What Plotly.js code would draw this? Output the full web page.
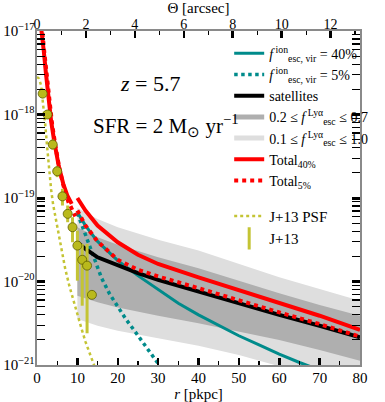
<!DOCTYPE html>
<html lang="en">
<head>
    <meta charset="UTF-8">
    <title>Lya SB profile</title>
    <script src="https://cdn.plot.ly/plotly-3.0.1.min.js"></script>
    <style>
        body { margin: 0; background: #fff; }
        #myDiv { width: 385px; height: 402px; }
    </style>
</head>
<body>
<div id="myDiv"></div>
<script>
    // surface brightness values are log10(SB)
    // central part (r < 10 kpc), both totals
    var rInner40 = [1.0, 1.3, 1.7, 2.2, 2.8, 3.5, 4.3, 5.4, 6.5, 7.5, 8.6];
    var total40Inner = [-16.95, -17.05, -17.25, -17.5, -17.8, -18.08, -18.33, -18.62, -18.83, -18.97, -19.07];
    var rInner5 = [1.0, 1.4, 1.8, 2.3, 3.0, 3.7, 4.5, 5.6, 6.8, 7.8, 8.8, 9.5];
    var total5Inner = [-16.93, -17.05, -17.25, -17.5, -17.82, -18.1, -18.36, -18.66, -18.9, -19.05, -19.15, -19.22];

    // outer part
    var rOuter = [10, 12, 15, 20, 25, 30, 40, 50, 60, 70, 80];
    var satellites = [-19.53, -19.61, -19.71, -19.81, -19.90, -19.98, -20.12, -20.27, -20.40, -20.53, -20.67];
    var total40Outer = [-19.00, -19.15, -19.33, -19.53, -19.68, -19.79, -19.95, -20.10, -20.25, -20.41, -20.58];
    var total5Outer = [-19.15, -19.33, -19.52, -19.74, -19.86, -19.94, -20.08, -20.23, -20.37, -20.51, -20.66];

    var rCen40 = [10, 12, 15, 20, 25, 30, 35, 40, 45, 50, 55, 60, 65, 70];
    var central40 = [-19.17, -19.33, -19.52, -19.75, -19.93, -20.10, -20.26, -20.40, -20.53, -20.65, -20.76, -20.87, -20.97, -21.06];
    var rCen5 = [10, 12, 14, 16, 18, 20, 22, 24, 26, 28, 30, 31];
    var central5 = [-19.18, -19.45, -19.72, -19.96, -20.15, -20.31, -20.45, -20.58, -20.71, -20.85, -20.98, -21.05];

    // f_esc^Lya bands round the satellites
    var rBand = [10, 15, 20, 30, 40, 50, 60, 70, 80];
    var darkHi = [-19.35, -19.47, -19.56, -19.71, -19.84, -19.99, -20.14, -20.28, -20.41];
    var darkLo = [-20.17, -20.25, -20.31, -20.41, -20.50, -20.60, -20.70, -20.82, -20.95];
    var lightHi = [-19.12, -19.25, -19.35, -19.50, -19.63, -19.79, -19.95, -20.09, -20.23];
    var lightLo = [-20.45, -20.53, -20.59, -20.68, -20.77, -20.88, -21.02, -21.15, -21.28];

    // J+13 data and PSF
    var rObs = [1.4, 2.6, 3.9, 5.0, 6.3, 7.6, 8.8, 10.0, 11.2, 12.4, 13.6];
    var sbObs = [-17.75, -18.0, -18.36, -18.68, -18.98, -19.19, -19.35, -19.57, -19.74, -19.81, -20.16];
    var sbObsHi = [-17.70, -17.95, -18.30, -18.62, -18.89, -19.09, -19.23, -19.39, -19.55, -19.55, -20.16];
    var sbObsLo = [-17.80, -18.05, -18.42, -18.75, -19.09, -19.29, -19.53, -19.99, -20.29, -20.62, -20.16];
    var rPsf = [0, 0.5, 1, 1.5, 2, 2.5, 3, 3.5, 4, 5, 6, 7, 8, 9, 10, 11, 12, 13, 14, 14.5];
    var psf = [-17.55, -17.57, -17.65, -17.85, -18.1, -18.38, -18.65, -18.9, -19.08, -19.35, -19.6, -19.85, -20.05, -20.22, -20.42, -20.56, -20.72, -20.86, -20.99, -21.05];

    var kpcPerArcsec = 6.06;

    function pw(a) { return a.map(v => v === null ? null : Math.pow(10, v)); }

    var TEAL = '#008b8b', RED = '#ff0000', YEL = '#c4c434';
    var DARK = '#afafaf', LIGHT = '#dedede';

    var lightLow = { x: rBand, y: pw(lightLo), mode: 'lines', line: {width: 0, color: LIGHT}, showlegend: false, hoverinfo: 'skip' };
    var lightUp = { x: rBand, y: pw(lightHi), mode: 'lines', line: {width: 0, color: LIGHT}, fill: 'tonexty', fillcolor: LIGHT, showlegend: false, hoverinfo: 'skip' };
    var darkLow = { x: rBand, y: pw(darkLo), mode: 'lines', line: {width: 0, color: DARK}, showlegend: false, hoverinfo: 'skip' };
    var darkUp = { x: rBand, y: pw(darkHi), mode: 'lines', line: {width: 0, color: DARK}, fill: 'tonexty', fillcolor: DARK, showlegend: false, hoverinfo: 'skip' };

    var psfTrace = { x: rPsf, y: pw(psf), mode: 'lines', line: {color: YEL, width: 2.5, dash: 'dot'},
        name: 'J+13 PSF', legend: 'legend2', legendrank: 1 };

    var cen40Trace = { x: rCen40, y: pw(central40), mode: 'lines', line: {color: TEAL, width: 3},
        name: '<i>f</i><sup> ion</sup><sub>esc, vir</sub> = 40%', legendrank: 1 };
    var cen5Trace = { x: rCen5, y: pw(central5), mode: 'lines', line: {color: TEAL, width: 3.5, dash: 'dot'},
        name: '<i>f</i><sup> ion</sup><sub>esc, vir</sub> = 5%', legendrank: 2 };
    var satTrace = { x: rOuter, y: pw(satellites), mode: 'lines', line: {color: 'black', width: 4},
        name: 'satellites', legendrank: 3 };
    var darkLeg = { x: [null], y: [null], mode: 'lines', line: {color: DARK, width: 5},
        name: '0.2 ≤ <i>f</i><sup> Lyα</sup><sub>esc</sub> ≤ 0.7', legendrank: 4 };
    var lightLeg = { x: [null], y: [null], mode: 'lines', line: {color: LIGHT, width: 5},
        name: '0.1 ≤ <i>f</i><sup> Lyα</sup><sub>esc</sub> ≤ 1.0', legendrank: 5 };
    var tot40Trace = { x: rInner40.concat([null], rOuter), y: pw(total40Inner.concat([null], total40Outer)),
        mode: 'lines', line: {color: RED, width: 4}, connectgaps: false,
        name: 'Total<sub>40%</sub>', legendrank: 6 };
    var tot5Trace = { x: rInner5.concat([null], rOuter), y: pw(total5Inner.concat([null], total5Outer)),
        mode: 'lines', line: {color: RED, width: 4, dash: 'dot'}, connectgaps: false,
        name: 'Total<sub>5%</sub>', legendrank: 7 };

    var obsTrace = { x: rObs, y: pw(sbObs), mode: 'markers', showlegend: false,
        marker: {size: 9, color: '#b9b91c', line: {color: '#5e5e00', width: 0.8}},
        error_y: { type: 'data', symmetric: false,
            array: rObs.map((r, i) => Math.pow(10, sbObsHi[i]) - Math.pow(10, sbObs[i])),
            arrayminus: rObs.map((r, i) => Math.pow(10, sbObs[i]) - Math.pow(10, sbObsLo[i])),
            color: YEL, thickness: 3, width: 0 } };
    var obsLeg = { x: [null], y: [null], mode: 'markers', name: 'J+13', legend: 'legend2', legendrank: 2,
        marker: {symbol: 'line-ns-open', size: 16, color: YEL, line: {color: YEL, width: 3}} };

    var topAxisTrace = { x: [], y: [], xaxis: 'x2', showlegend: false, hoverinfo: 'skip' };

    var data = [lightLow, lightUp, darkLow, darkUp, psfTrace, cen40Trace, cen5Trace, satTrace,
        tot40Trace, tot5Trace, obsTrace, darkLeg, lightLeg, obsLeg, topAxisTrace];

    var FONT = 'Liberation Serif';
    var layout = {
        width: 385, height: 402,
        margin: {l: 37, r: 13, t: 31, b: 37},
        paper_bgcolor: 'white', plot_bgcolor: 'white',
        font: {family: FONT, size: 14, color: 'black'},
        showlegend: true,
        xaxis: {
            range: [0, 80], dtick: 10, tick0: 0,
            ticks: 'inside', ticklen: 7, tickwidth: 2.5, tickcolor: 'black',
            minor: {dtick: 5, ticks: 'inside', ticklen: 4, tickwidth: 1.2, tickcolor: 'black', showgrid: false},
            showline: true, linecolor: '#8a8a8a', linewidth: 2,
            showgrid: false, zeroline: false,
            tickfont: {family: FONT, size: 15}, ticklabelstandoff: -2,
            title: {text: '<i>r</i> [pkpc]', font: {family: FONT, size: 15}, standoff: 5}
        },
        xaxis2: {
            overlaying: 'x', side: 'top', anchor: 'y',
            range: [0, 80 / kpcPerArcsec], dtick: 2, tick0: 0,
            ticks: 'inside', ticklen: 7, tickwidth: 2.5, tickcolor: 'black',
            minor: {dtick: 1, ticks: 'inside', ticklen: 4, tickwidth: 1.2, tickcolor: 'black', showgrid: false},
            showline: true, linecolor: '#8a8a8a', linewidth: 2,
            showgrid: false, zeroline: false,
            tickfont: {family: FONT, size: 14}, ticklabelstandoff: -6,
            title: {text: 'Θ [arcsec]', font: {family: FONT, size: 15}, standoff: 1}
        },
        yaxis: {
            type: 'log', range: [-21, -17], dtick: 1,
            exponentformat: 'power',
            ticks: 'inside', ticklen: 8, tickwidth: 3, tickcolor: 'black',
            minor: {dtick: 'D1', ticks: 'inside', ticklen: 5, tickwidth: 1.2, tickcolor: 'black', showgrid: false},
            showline: true, linecolor: '#8a8a8a', linewidth: 2, mirror: 'allticks',
            showgrid: false, zeroline: false,
            tickfont: {family: FONT, size: 12}, ticklabelstandoff: -2
        },
        legend: {
            x: 0.595, y: 0.98, xanchor: 'left', yanchor: 'top', traceorder: 'normal',
            bgcolor: 'rgba(0,0,0,0)', borderwidth: 0,
            font: {family: FONT, size: 14}, itemwidth: 30, tracegroupgap: 0
        },
        legend2: {
            x: 0.595, y: 0.495, xanchor: 'left', yanchor: 'top', traceorder: 'normal',
            bgcolor: 'rgba(0,0,0,0)', borderwidth: 0,
            font: {family: FONT, size: 15}, itemwidth: 30
        },
        annotations: [
            {xref: 'paper', yref: 'paper', x: 0.35, y: 0.885, showarrow: false,
             text: '<i>z</i> = 5.7', font: {family: FONT, size: 22}},
            {xref: 'paper', yref: 'paper', x: 0.40, y: 0.765, showarrow: false,
             text: 'SFR = 2 M<sub>⊙</sub> yr<sup>−1</sup>', font: {family: FONT, size: 21}}
        ]
    };

    Plotly.newPlot('myDiv', data, layout, {displayModeBar: false, staticPlot: true});
</script>
</body>
</html>
